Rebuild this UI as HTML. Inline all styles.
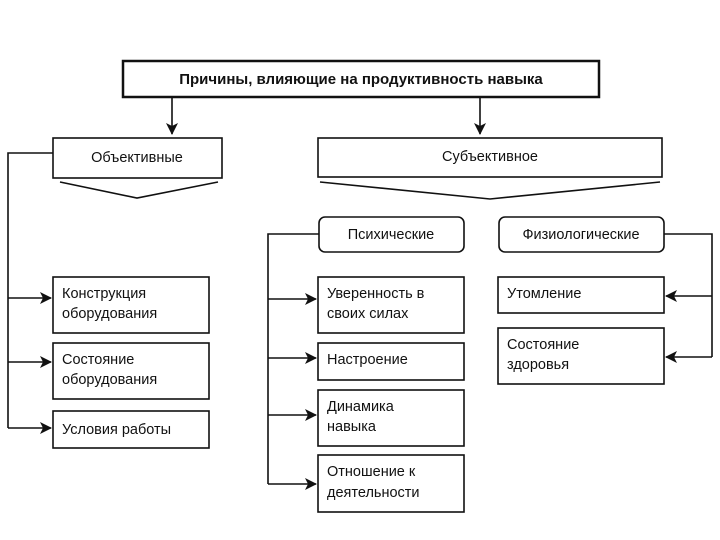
<!DOCTYPE html>
<html><head><meta charset="utf-8"><style>body{margin:0;background:#fff}svg{display:block}text{font-family:"Liberation Sans","DejaVu Sans",sans-serif;font-size:14.5px;fill:#111}</style></head><body>
<svg width="720" height="540" viewBox="0 0 720 540" xmlns="http://www.w3.org/2000/svg">
<defs><marker id="a" markerWidth="12" markerHeight="12" refX="11" refY="6" orient="auto" markerUnits="userSpaceOnUse"><path d="M0,0 L12,6 L0,12 L3,6 Z" fill="#111"/></marker></defs>
<g fill="none" stroke="#111" stroke-width="1.6">
<rect x="123" y="61" width="476" height="36" stroke-width="2.5"/>
<rect x="53" y="138" width="169" height="40"/>
<polyline points="60,182 137,198 218,182"/>
<rect x="318" y="138" width="344" height="39"/>
<polyline points="320,182 490,199 660,182"/>
<rect x="319" y="217" width="145" height="35" rx="6"/>
<rect x="499" y="217" width="165" height="35" rx="6"/>
<line x1="172" y1="97" x2="172" y2="134" marker-end="url(#a)"/>
<line x1="480" y1="97" x2="480" y2="134" marker-end="url(#a)"/>
<rect x="53" y="277" width="156" height="56"/>
<rect x="53" y="343" width="156" height="56"/>
<rect x="53" y="411" width="156" height="37"/>
<rect x="318" y="277" width="146" height="56"/>
<rect x="318" y="343" width="146" height="37"/>
<rect x="318" y="390" width="146" height="56"/>
<rect x="318" y="455" width="146" height="57"/>
<rect x="498" y="277" width="166" height="36"/>
<rect x="498" y="328" width="166" height="56"/>
<polyline points="53,153 8,153 8,428"/>
<line x1="8" y1="298" x2="51" y2="298" marker-end="url(#a)"/>
<line x1="8" y1="362" x2="51" y2="362" marker-end="url(#a)"/>
<line x1="8" y1="428" x2="51" y2="428" marker-end="url(#a)"/>
<polyline points="319,234 268,234 268,484"/>
<line x1="268" y1="299" x2="316" y2="299" marker-end="url(#a)"/>
<line x1="268" y1="358" x2="316" y2="358" marker-end="url(#a)"/>
<line x1="268" y1="415" x2="316" y2="415" marker-end="url(#a)"/>
<line x1="268" y1="484" x2="316" y2="484" marker-end="url(#a)"/>
<polyline points="664,234 712,234 712,357"/>
<line x1="712" y1="296" x2="666" y2="296" marker-end="url(#a)"/>
<line x1="712" y1="357" x2="666" y2="357" marker-end="url(#a)"/>
</g>
<text x="361" y="84" text-anchor="middle" font-weight="bold" style="font-size:15px">Причины, влияющие на продуктивность навыка</text>
<text x="137" y="162" text-anchor="middle">Объективные</text>
<text x="490" y="161" text-anchor="middle">Субъективное</text>
<text x="391" y="239" text-anchor="middle">Психические</text>
<text x="581" y="239" text-anchor="middle">Физиологические</text>
<text x="62" y="298">Конструкция</text><text x="62" y="318">оборудования</text>
<text x="62" y="364">Состояние</text><text x="62" y="384">оборудования</text>
<text x="62" y="434">Условия работы</text>
<text x="327" y="298">Уверенность в</text><text x="327" y="318">своих силах</text>
<text x="327" y="364">Настроение</text>
<text x="327" y="411">Динамика</text><text x="327" y="431">навыка</text>
<text x="327" y="476">Отношение к</text><text x="327" y="497">деятельности</text>
<text x="507" y="298">Утомление</text>
<text x="507" y="349">Состояние</text><text x="507" y="369">здоровья</text>
</svg>
</body></html>
